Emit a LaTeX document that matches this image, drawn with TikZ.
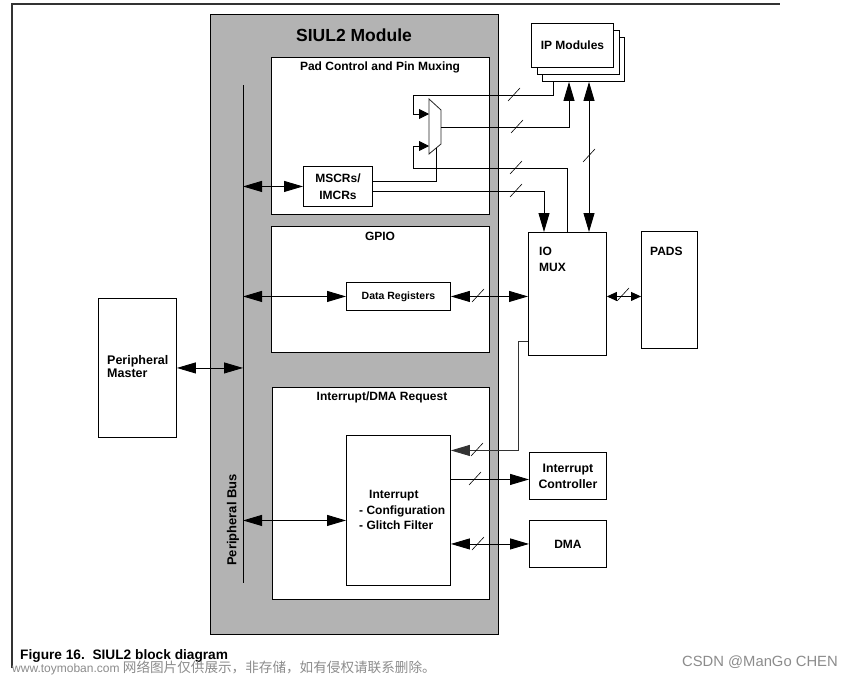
\documentclass[tikz,border=0pt]{standalone}
\usepackage{fontspec}
\setmainfont{Liberation Sans}
\newfontfamily\cjk{Noto Sans CJK SC}
\usetikzlibrary{arrows.meta}
\definecolor{siulgray}{RGB}{179,179,179}
\definecolor{wmgray}{RGB}{140,140,140}
\begin{document}
\begin{tikzpicture}[x=1pt,y=-1pt,
  box/.style={draw, fill=white, line width=0.9pt, inner sep=0pt, anchor=north west},
  lbl/.style={font=\bfseries\fontsize{12}{13}\selectfont, inner sep=0pt},
  conn/.style={line width=0.9pt},
  arr/.style={conn, -{Triangle[length=19pt,width=11pt]}},
  darr/.style={conn, {Triangle[length=19pt,width=11pt]}-{Triangle[length=19pt,width=11pt]}},
  smallarr/.style={conn, -{Triangle[length=10pt,width=10pt]}},
  smalldarr/.style={conn, {Triangle[length=10pt,width=9pt]}-{Triangle[length=10pt,width=9pt]}},
  busslash/.pic={\draw[line width=0.6pt] (-6,6) -- (6,-7);}
]
\useasboundingbox (0,0) rectangle (853,677);
\fill[white] (0,0) rectangle (853,677);

% frame
\draw[line width=1.6pt, black!80] (12,668) -- (12,4) -- (780,4);

% SIUL2 module
\node[box, fill=siulgray, minimum width=288pt, minimum height=620pt] (siul) at (210,14) {};
\node[lbl, font=\bfseries\fontsize{17.5}{19}\selectfont] (siult) at (354,35) {SIUL2 Module};

\node[box, minimum width=218pt, minimum height=157pt] (pad) at (271,57) {};
\node[lbl] (padt) at (380,67) {Pad Control and Pin Muxing};
\node[box, minimum width=218pt, minimum height=126pt] (gpio) at (271,226) {};
\node[lbl] (gpiot) at (380,236) {GPIO};
\node[box, minimum width=217pt, minimum height=212pt] (intr) at (272,387) {};
\node[lbl] (intrt) at (382,397) {Interrupt/DMA Request};

% peripheral bus
\coordinate (bustop) at (243,85);
\coordinate (busbot) at (243,583);
\draw[conn] (bustop) -- (busbot);
\node[lbl, rotate=90, font=\bfseries\fontsize{13}{14}\selectfont] (bust) at (233,520) {Peripheral Bus};

% boxes
\node[box, minimum width=78pt, minimum height=139pt] (pm) at (98,298) {};
\node[lbl, align=left, anchor=west, font=\bfseries\fontsize{12.5}{13}\selectfont] (pmt) at (107,366.5) {Peripheral\\Master};

\node[box, lbl, align=center, font=\bfseries\fontsize{12}{17}\selectfont, minimum width=69pt, minimum height=40pt] (mscr) at (303,166) {MSCRs/\\IMCRs};
\node[box, lbl, font=\bfseries\fontsize{10.5}{12}\selectfont, minimum width=104pt, minimum height=28pt] (dr) at (346,282) {Data Registers};
\node[box, minimum width=104pt, minimum height=150pt] (icfg) at (346,435) {};
\node[lbl, align=left, anchor=west, font=\bfseries\fontsize{12}{15.5}\selectfont] (icfgt) at (359,510) {\hspace*{10pt}Interrupt\\- Configuration\\- Glitch Filter};

\node[box, minimum width=82pt, minimum height=44pt] (ip3) at (542,37) {};
\node[box, minimum width=82pt, minimum height=44pt] (ip2) at (537,30) {};
\node[box, lbl, minimum width=82pt, minimum height=44pt] (ip1) at (531,23) {IP Modules};

\node[box, minimum width=78pt, minimum height=123pt] (iomux) at (528,232) {};
\node[lbl, align=left, anchor=west, font=\bfseries\fontsize{12}{16}\selectfont] (iomuxt) at (539,259) {IO\\MUX};
\node[box, minimum width=56pt, minimum height=117pt] (pads) at (641,231) {};
\node[lbl, anchor=west] (padst) at (650,251) {PADS};
\node[box, lbl, align=center, font=\bfseries\fontsize{12.3}{16}\selectfont, minimum width=77pt, minimum height=47pt] (ic) at (529,452) {Interrupt\\Controller};
\node[box, lbl, minimum width=77pt, minimum height=47pt] (dma) at (529,520) {DMA};

% mux
\draw[line width=0.8pt, black!85] (429,99) -- (441,110) -- (441,144) -- (429,154) -- cycle;
\coordinate (muxin1) at (429,114);
\coordinate (muxin2) at (429,146);
\coordinate (muxout) at (441,127);
\coordinate (muxsel) at (436,148);

% connectors in pad control
\draw[smallarr] ([xshift=11pt]ip3.south west) |- (413,95) |- (muxin1);
\draw[arr] (muxout) -| ([xshift=27pt]ip3.south west);
\draw[smallarr] ([xshift=39pt]iomux.north west) |- (413,168) |- (muxin2);
\draw[conn] (muxsel) |- ([yshift=5pt]mscr.east);
\draw[arr] ([yshift=-5pt]mscr.east) -| ([xshift=16pt]iomux.north west);
\draw[darr] ([xshift=47pt]ip3.south west) -- ([xshift=61pt]iomux.north west);

% bus connectors
\draw[darr] (mscr.west -| bustop) -- (mscr.west);
\draw[darr] (dr.west -| bustop) -- (dr.west);
\draw[darr] ([yshift=-10pt]icfg.west -| bustop) -- ([yshift=-10pt]icfg.west);
\draw[darr] (pm.east) -- (pm.east -| bustop);

% right side connectors
\draw[darr] (dr.east) -- (dr.east -| iomux.west);
\draw[smalldarr] (dr.east -| iomux.east) -- (dr.east -| pads.west);
\draw[arr, black!80] ([yshift=14pt]iomux.south west) -- ++(-10,0) |- ([yshift=60pt]icfg.east);
\draw[arr] ([yshift=-3.5pt]ic.west -| icfg.east) -- ([yshift=-3.5pt]ic.west);
\draw[darr] (dma.west -| icfg.east) -- (dma.west);

% bus width slashes
\pic at (514,95) {busslash};
\pic at (517,127) {busslash};
\pic at (516,168) {busslash};
\pic at (516,191) {busslash};
\pic at (589,156) {busslash};
\pic at (478,296) {busslash};
\pic at (623,295) {busslash};
\pic at (477,450) {busslash};
\pic at (475,479) {busslash};
\pic at (478,544) {busslash};

% caption and marks
\node[anchor=west, inner sep=0pt, font=\bfseries\fontsize{13.7}{14}\selectfont] (cap) at (20,656) {Figure 16.\ \ SIUL2 block diagram};
\node[anchor=west, inner sep=0pt, text=wmgray, font=\fontsize{12}{13}\selectfont] (wm) at (12,668) {www.toymoban.com {\cjk\fontsize{13.6}{14}\selectfont 网络图片仅供展示，非存储，如有侵权请联系删除。}};
\node[anchor=east, inner sep=0pt, text=wmgray, font=\fontsize{14.8}{15}\selectfont] (csdn) at (838,662) {CSDN @ManGo CHEN};
\end{tikzpicture}
\end{document}
